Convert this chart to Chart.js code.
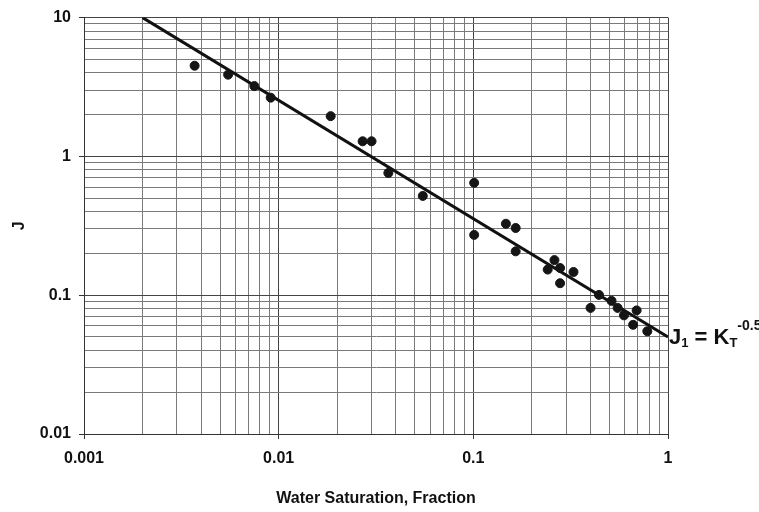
<!DOCTYPE html>
<html><head><meta charset="utf-8">
<script src="https://cdn.jsdelivr.net/npm/chart.js@4/dist/chart.umd.min.js"></script>
<style>html,body{margin:0;padding:0;background:#fff}#wrap{width:759px;height:512px;position:relative}</style>
</head><body><div id="wrap"><canvas id="c"></canvas></div>
<script>
// ---- data ----
const waterSat = [0.0037, 0.0055, 0.0075, 0.0091, 0.0185, 0.027, 0.030, 0.0366, 0.055, 0.101, 0.101,
                  0.147, 0.165, 0.165, 0.261, 0.241, 0.279, 0.327, 0.279, 0.400, 0.442, 0.513, 0.551,
                  0.594, 0.690, 0.662, 0.783];
const jValues  = [4.50, 3.88, 3.21, 2.65, 1.95, 1.285, 1.285, 0.760, 0.519, 0.645, 0.272,
                  0.327, 0.305, 0.207, 0.179, 0.153, 0.157, 0.147, 0.122, 0.081, 0.1005, 0.091, 0.081,
                  0.0716, 0.0777, 0.0612, 0.055];
const fitX = [0.002, 1];
const fitY = [10, 0.05];
const xTickLabels = ['0.001', '0.01', '0.1', '1'];
const yTickLabels = ['0.01', '0.1', '1', '10'];
const xTitle = 'Water Saturation, Fraction';
const yTitle = 'J';
const fitLabelParts = [['J', 'n'], ['1', 'sub'], [' = K', 'n'], ['T', 'sub'], ['-0.5', 'sup']];

const FONT = '"Liberation Sans", Arial, sans-serif';

function logTicks(labels) {
  const vals = labels.map(Number);
  const out = [];
  for (let i = 0; i < vals.length - 1; i++) {
    for (let k = 1; k < 10; k++) out.push({ value: +(vals[i] * k).toPrecision(6), major: k === 1 });
  }
  out.push({ value: vals[vals.length - 1], major: true });
  return out;
}

const gridColor = (ctx) => (ctx.tick && ctx.tick.major) ? '#444' : '#7a7a7a';
const tickMarkColor = (ctx) => (ctx.tick && ctx.tick.major) ? '#333' : 'rgba(0,0,0,0)';

const fitLabelPlugin = {
  id: 'fitLabel',
  afterDatasetsDraw(chart) {
    const xs = chart.scales.x, ys = chart.scales.y;
    const px = xs.getPixelForValue(fitX[fitX.length - 1]);
    const py = ys.getPixelForValue(fitY[fitY.length - 1]);
    const c = chart.ctx;
    c.save();
    c.fillStyle = '#111';
    c.textBaseline = 'middle';
    c.textAlign = 'left';
    let x = px + 1;
    for (const [t, kind] of fitLabelParts) {
      if (kind === 'n') { c.font = 'bold 22px ' + FONT; c.fillText(t, x, py + 1); }
      else if (kind === 'sub') { c.font = 'bold 13px ' + FONT; c.fillText(t, x, py + 6); }
      else { c.font = 'bold 14px ' + FONT; c.fillText(t, x, py - 11); }
      x += c.measureText(t).width;
    }
    c.restore();
  }
};

new Chart(document.getElementById('c'), {
  type: 'scatter',
  data: {
    datasets: [
      {
        label: 'fit',
        type: 'line',
        data: fitX.map((v, i) => ({ x: v, y: fitY[i] })),
        borderColor: '#111',
        borderWidth: 3,
        pointRadius: 0,
        fill: false,
        order: 2
      },
      {
        label: 'data',
        data: waterSat.map((v, i) => ({ x: v, y: jValues[i] })),
        backgroundColor: '#151515',
        borderColor: '#151515',
        pointRadius: 4.5,
        pointHoverRadius: 4.5,
        order: 1
      }
    ]
  },
  plugins: [fitLabelPlugin],
  options: {
    responsive: true,
    maintainAspectRatio: false,
    animation: false,
    layout: { padding: { top: 13, right: 91, left: 0, bottom: 0 } },
    plugins: { legend: { display: false }, tooltip: { enabled: false } },
    scales: {
      x: {
        type: 'logarithmic',
        min: Number(xTickLabels[0]),
        max: Number(xTickLabels[xTickLabels.length - 1]),
        afterBuildTicks: (s) => { s.ticks = logTicks(xTickLabels); },
        afterFit: (s) => { s.height = 78; },
        border: { display: true, color: '#333', width: 1 },
        grid: { color: gridColor, lineWidth: 1, tickLength: 5, tickColor: tickMarkColor },
        ticks: {
          autoSkip: false, maxRotation: 0, padding: 10, color: '#111',
          font: { family: FONT, size: 16, weight: 'bold' },
          callback: (v) => xTickLabels.includes(String(v)) ? String(v) : ''
        },
        title: { display: true, text: xTitle, color: '#111', font: { family: FONT, size: 16, weight: 'bold' }, padding: { top: 0, bottom: 4 } }
      },
      y: {
        type: 'logarithmic',
        min: Number(yTickLabels[0]),
        max: Number(yTickLabels[yTickLabels.length - 1]),
        afterBuildTicks: (s) => { s.ticks = logTicks(yTickLabels); },
        afterFit: (s) => { s.width = 84; },
        border: { display: true, color: '#333', width: 1 },
        grid: { color: gridColor, lineWidth: 1, tickLength: 5, tickColor: tickMarkColor },
        ticks: {
          autoSkip: false, padding: 8, color: '#111',
          font: { family: FONT, size: 16, weight: 'bold' },
          callback: (v) => yTickLabels.includes(String(v)) ? String(v) : ''
        },
        title: { display: true, text: yTitle, color: '#111', font: { family: FONT, size: 16, weight: 'bold' }, padding: { top: 10, bottom: 0 } }
      }
    }
  }
});
</script>
</body></html>
